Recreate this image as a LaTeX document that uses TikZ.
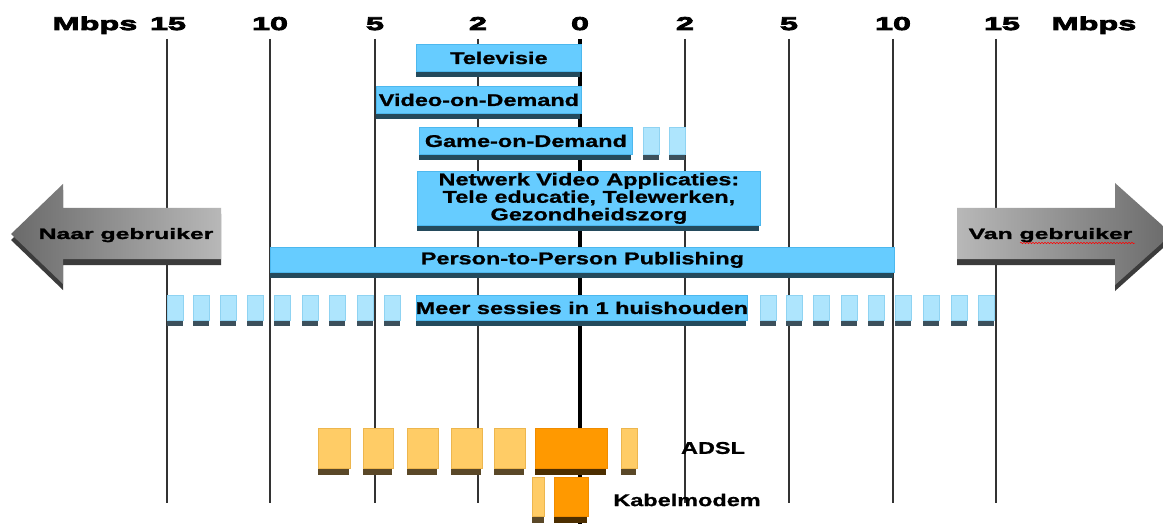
\documentclass[tikz,border=0pt]{standalone}
\usepackage{fontspec}
\setmainfont{Liberation Sans}
\newfontfamily\barfont{Liberation Sans}[FakeStretch=1.38,FakeBold=1]
\newfontfamily\arrfont{Liberation Sans}[FakeStretch=1.65,FakeBold=1.8]
\newfontfamily\headfont{Liberation Sans}[FakeStretch=1.75,FakeBold=4.5]
\usetikzlibrary{decorations.pathmorphing}
\definecolor{barblue}{HTML}{66CCFF}
\definecolor{barline}{HTML}{4DB8EE}
\definecolor{barshadow}{HTML}{244A5C}
\definecolor{paleblue}{HTML}{AEE5FD}
\definecolor{paleline}{HTML}{8FD3F2}
\definecolor{paleshadow}{HTML}{3C505C}
\definecolor{lightorange}{HTML}{FFCC66}
\definecolor{lightorangeline}{HTML}{EDB64E}
\definecolor{orangeshadow}{HTML}{5A4828}
\definecolor{darkorange}{HTML}{FF9900}
\definecolor{darkorangeline}{HTML}{F08C00}
\definecolor{darkorangeshadow}{HTML}{4C2E00}
\definecolor{gridgray}{HTML}{333333}
\definecolor{arrowdark}{HTML}{6A6A6A}
\definecolor{arrowlight}{HTML}{B8B8B8}
\definecolor{arrowshadow}{HTML}{3C3C3C}
\tikzset{
  bar/.style={fill=barblue, draw=barline, line width=0.8pt, inner sep=0pt, anchor=north west,
    font={\barfont\bfseries\fontsize{17}{17.5}\selectfont}, align=center, text=black},
  palebox/.style={fill=paleblue, draw=paleline, line width=0.8pt, inner sep=0pt, anchor=north west},
  lobox/.style={fill=lightorange, draw=lightorangeline, line width=0.8pt, inner sep=0pt, anchor=north west},
  dobox/.style={fill=darkorange, draw=darkorangeline, line width=0.8pt, inner sep=0pt, anchor=north west},
  headlabel/.style={font={\headfont\bfseries\fontsize{18.5}{18.5}\selectfont}, inner sep=0pt, anchor=base},
  gridline/.style={draw=gridgray, line width=1.2pt},
  arrowtext/.style={font={\arrfont\bfseries\fontsize{15}{15}\selectfont}, inner sep=0pt, anchor=base},
  techtext/.style={font={\barfont\bfseries\fontsize{17}{17}\selectfont}, inner sep=0pt},
}
\begin{document}
\begin{tikzpicture}[x=1pt,y=-1pt]
\useasboundingbox (0,0) rectangle (1163,524);
\fill[white] (0,0) rectangle (1163,524);
\clip (0,0) rectangle (1163,524);

% header labels
\node[headlabel] (mbpsL) at (95,30) {Mbps};
\node[headlabel] (l15) at (168,30) {15};
\node[headlabel] (l10) at (270,30) {10};
\node[headlabel] (l5) at (375,30) {5};
\node[headlabel] (l2) at (478,30) {2};
\node[headlabel] (zero) at (580,30) {0};
\node[headlabel] (r2) at (685,30) {2};
\node[headlabel] (r5) at (789,30) {5};
\node[headlabel] (r10) at (893,30) {10};
\node[headlabel] (r15) at (1002,30) {15};
\node[headlabel] (mbpsR) at (1094,30) {Mbps};

% grid lines
\foreach \x in {167,270,375,478,685,789,893,996}
  \draw[gridline] (\x,39) -- (\x,503);
\draw[black, line width=4pt] (580,39) -- (580,524);

% arrows
\fill[arrowshadow, shift={(0,6)}] (11,234) -- (63,184) -- (63,208) -- (221,208) -- (221,259) -- (63,259) -- (63,284) -- cycle;
\shade[left color=arrowdark, right color=arrowlight] (11,234) -- (63,184) -- (63,208) -- (221,208) -- (221,259) -- (63,259) -- (63,284) -- cycle;
\node[arrowtext] (naar) at (126,239) {Naar gebruiker};

\fill[arrowshadow, shift={(0,6)}] (957,208) -- (1115,208) -- (1115,183) -- (1172,234) -- (1115,285) -- (1115,259) -- (957,259) -- cycle;
\shade[left color=arrowlight, right color=arrowdark] (957,208) -- (1115,208) -- (1115,183) -- (1172,234) -- (1115,285) -- (1115,259) -- (957,259) -- cycle;
\node[arrowtext] (van) at (1050.5,239) {Van gebruiker};
\draw[red, line width=0.5pt, decorate, decoration={snake, amplitude=0.7pt, segment length=3pt}] (1020,243) -- (1135,243);

% bars
\node[bar, minimum width=165pt, minimum height=27pt] (tv) at (416,44) {Televisie};
\node[bar, minimum width=205pt, minimum height=27pt] (vod) at (376,86) {Video-on-Demand};
\node[bar, minimum width=213pt, minimum height=27pt] (god) at (419,127) {Game-on-Demand};
\node[palebox, minimum width=16pt, minimum height=27pt] (g1) at (643,127) {};
\node[palebox, minimum width=16pt, minimum height=27pt] (g2) at (669,127) {};
\node[bar, minimum width=343pt, minimum height=54pt] (nva) at (417,171) {Netwerk Video Applicaties:\\Tele educatie, Telewerken,\\Gezondheidszorg};
\node[bar, minimum width=624pt, minimum height=25pt] (p2p) at (270,247) {Person-to-Person Publishing};
\node[bar, minimum width=331pt, minimum height=25pt] (meer) at (416,295) {\makebox[0pt]{Meer sessies in 1 huishouden}};

\foreach \n in {tv,vod,god,nva,p2p,meer}
  \fill[barshadow] (\n.south west) rectangle ([xshift=-1.5pt,yshift=-5.5pt]\n.south east);
\foreach \n in {g1,g2}
  \fill[paleshadow] (\n.south west) rectangle ([xshift=-1pt,yshift=-5.5pt]\n.south east);

\foreach \x [count=\i] in {167,193,220,247,274,302,329,357,384}{
  \node[palebox, minimum width=16pt, minimum height=25pt] (sl\i) at (\x,295) {};
  \fill[paleshadow] (sl\i.south west) rectangle ([xshift=-1pt,yshift=-5.5pt]sl\i.south east);
}
\foreach \x [count=\i] in {760,786,813,841,868,895,923,951,978}{
  \node[palebox, minimum width=16pt, minimum height=25pt] (sr\i) at (\x,295) {};
  \fill[paleshadow] (sr\i.south west) rectangle ([xshift=-1pt,yshift=-5.5pt]sr\i.south east);
}

% ADSL
\foreach \x/\w [count=\i] in {318/32,363/30,407/31,451/31,494/31,621/16}{
  \node[lobox, minimum width=\w pt, minimum height=40pt] (a\i) at (\x,428) {};
  \fill[orangeshadow] (a\i.south west) rectangle ([xshift=-1.5pt,yshift=-6pt]a\i.south east);
}
\node[dobox, minimum width=72pt, minimum height=40pt] (adark) at (535,428) {};
\fill[darkorangeshadow] (adark.south west) rectangle ([xshift=-1.5pt,yshift=-6pt]adark.south east);
\node[techtext] (adsl) at (713,448) {ADSL};

% Kabelmodem
\node[lobox, minimum width=12pt, minimum height=39pt] (k1) at (532,477) {};
\fill[orangeshadow] (k1.south west) rectangle ([xshift=-1pt,yshift=-6pt]k1.south east);
\node[dobox, minimum width=34pt, minimum height=39pt] (kdark) at (554,477) {};
\fill[darkorangeshadow] (kdark.south west) rectangle ([xshift=-1.5pt,yshift=-6pt]kdark.south east);
\node[techtext] (kabel) at (687,500) {Kabelmodem};
\end{tikzpicture}
\end{document}
